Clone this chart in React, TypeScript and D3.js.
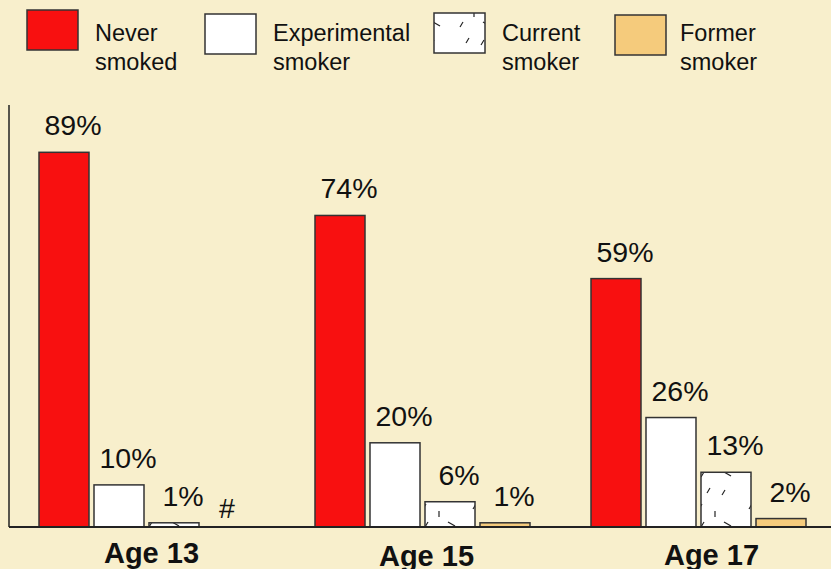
import React from "react";
import * as d3 from "d3";

// data
const ages = ["Age 13", "Age 15", "Age 17"];
const series = ["Never smoked", "Experimental smoker", "Current smoker", "Former smoker"];
const neverSmoked = [89, 74, 59];
const experimental = [10, 20, 26];
const current = [1, 6, 13];
const former = [0, 1, 2];
const valueLabels = [
  ["89%", "10%", "1%", "#"],
  ["74%", "20%", "6%", "1%"],
  ["59%", "26%", "13%", "2%"],
];
const legendLines = [
  ["Never", "smoked"],
  ["Experimental", "smoker"],
  ["Current", "smoker"],
  ["Former", "smoker"],
];

const W = 831;
const H = 569;
const BG = "#F8EFCC";
const FONT = "'Liberation Sans', Arial, sans-serif";

const fills = ["#F81010", "#FFFFFF", "url(#currentPat)", "#F5CB7C"];

const App = () => {
  const values = [neverSmoked, experimental, current, former];

  // scales
  const x0 = d3.scaleBand().domain(ages).range([39, 806]).paddingInner(0.221);
  const x1 = d3
    .scaleBand()
    .domain(series)
    .range([0, x0.bandwidth()])
    .paddingInner(0.0909);
  const y = d3.scaleLinear().domain([0, 100]).range([527, 106]);

  const legendX = [27, 205, 434, 615];
  const legendY = [10, 14, 13, 15];
  const ageDx = [5, 4, 13];
  const ageY = [563, 566, 565];

  return (
    <div style={{ position: "absolute", left: 0, top: 0 }}>
      <svg width={W} height={H} style={{ display: "block", background: BG }}>
        <defs>
          <pattern
            id="currentPat"
            patternUnits="userSpaceOnUse"
            width={50}
            height={50}
          >
            <rect width={50} height={50} fill="#fff" />
            <g stroke="#222" strokeWidth={1.2}>
              <line x1={8} y1={9} x2={11} y2={4} />
              <line x1={24} y1={11} x2={24} y2={17} />
              <line x1={33} y1={22} x2={40} y2={26} />
              <line x1={10} y1={27} x2={13} y2={22} />
              <line x1={16} y1={43} x2={19} y2={38} />
              <line x1={31} y1={45} x2={34} y2={40} />
            </g>
          </pattern>
        </defs>

        {/* legend */}
        {series.map((s, i) => (
          <g key={s}>
            <rect
              x={legendX[i]}
              y={legendY[i]}
              width={51}
              height={40}
              fill={fills[i]}
              stroke="#333"
              strokeWidth={1.5}
            />
            <text
              x={legendX[i] + (i === 3 ? 65 : 68)}
              y={41}
              fontFamily={FONT}
              fontSize={23.5}
              fill="#111"
            >
              {legendLines[i][0]}
            </text>
            <text
              x={legendX[i] + (i === 3 ? 65 : 68)}
              y={70}
              fontFamily={FONT}
              fontSize={23.5}
              fill="#111"
            >
              {legendLines[i][1]}
            </text>
          </g>
        ))}

        {/* bars */}
        {ages.map((age, gi) => (
          <g key={age} transform={`translate(${x0(age)},0)`}>
            {series.map((s, si) => {
              const v = values[si][gi];
              const bx = x1(s) as number;
              const top = v > 0 ? y(v) : y(0);
              return (
                <g key={s}>
                  {v > 0 && (
                    <rect
                      x={bx}
                      y={top}
                      width={x1.bandwidth()}
                      height={y(0) - top}
                      fill={fills[si]}
                      stroke="#333"
                      strokeWidth={1.5}
                    />
                  )}
                  <text
                    x={bx + x1.bandwidth() / 2 + (v > 0 ? 9 : -2)}
                    y={v > 0 ? top - 17 : y(0) - 9}
                    textAnchor="middle"
                    fontFamily={FONT}
                    fontSize={28.5}
                    fill="#111"
                  >
                    {valueLabels[gi][si]}
                  </text>
                </g>
              );
            })}
            <text
              x={x0.bandwidth() / 2 + ageDx[gi]}
              y={ageY[gi]}
              textAnchor="middle"
              fontFamily={FONT}
              fontSize={29}
              fontWeight="bold"
              fill="#111"
            >
              {age}
            </text>
          </g>
        ))}

        {/* axes */}
        <line x1={9} y1={105} x2={9} y2={y(0)} stroke="#222" strokeWidth={1.5} />
        <line x1={9} y1={y(0)} x2={W} y2={y(0)} stroke="#222" strokeWidth={2} />
      </svg>
    </div>
  );
};

export default App;
